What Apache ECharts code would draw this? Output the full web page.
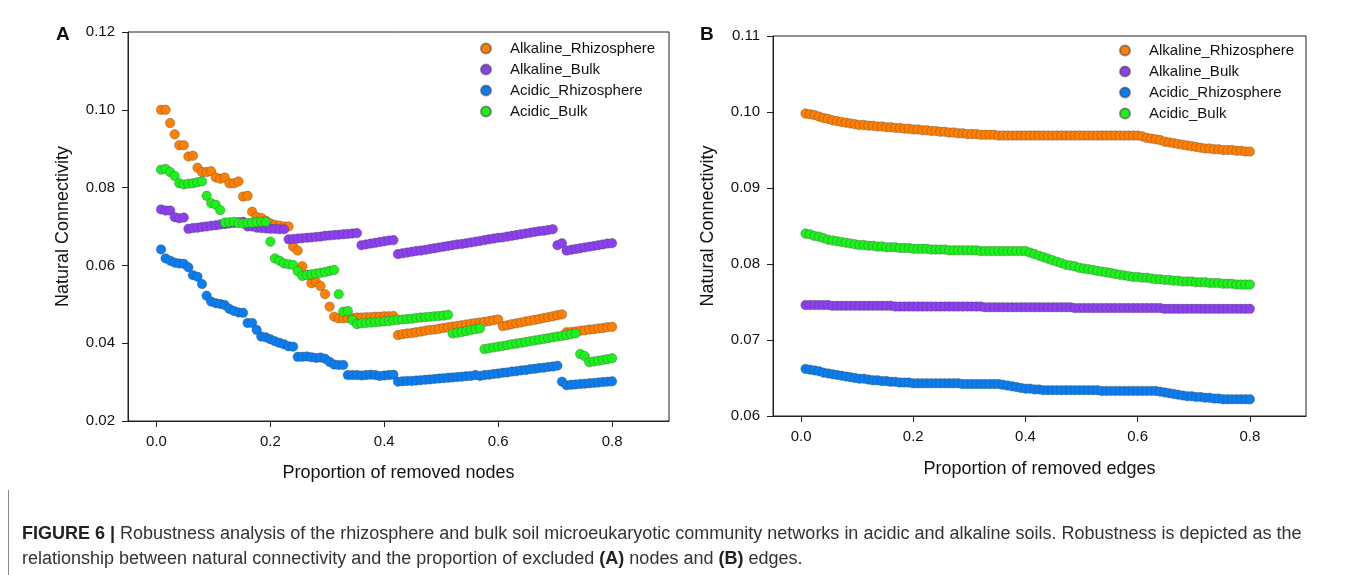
<!DOCTYPE html>
<html>
<head>
<meta charset="utf-8">
<title>Figure 6</title>
<script src="https://cdn.jsdelivr.net/npm/echarts@6.0.0/dist/echarts.min.js"></script>
<style>
	html, body { margin: 0; padding: 0; background: #fff; }
	#container { width: 1355px; height: 575px; }
</style>
</head>
<body>
<div id="container"></div>
<script>
// proportion removed (same steps for every network)
var xSteps = [0.008, 0.016, 0.024, 0.032, 0.040, 0.048, 0.056, 0.064, 0.072, 0.080,
	0.088, 0.096, 0.104, 0.112, 0.120, 0.128, 0.136, 0.144, 0.152, 0.160,
	0.168, 0.176, 0.184, 0.192, 0.200, 0.208, 0.216, 0.224, 0.232, 0.240,
	0.248, 0.256, 0.264, 0.272, 0.280, 0.288, 0.296, 0.304, 0.312, 0.320,
	0.328, 0.336, 0.344, 0.352, 0.360, 0.368, 0.376, 0.384, 0.392, 0.400,
	0.408, 0.416, 0.424, 0.432, 0.440, 0.448, 0.456, 0.464, 0.472, 0.480,
	0.488, 0.496, 0.504, 0.512, 0.520, 0.528, 0.536, 0.544, 0.552, 0.560,
	0.568, 0.576, 0.584, 0.592, 0.600, 0.608, 0.616, 0.624, 0.632, 0.640,
	0.648, 0.656, 0.664, 0.672, 0.680, 0.688, 0.696, 0.704, 0.712, 0.720,
	0.728, 0.736, 0.744, 0.752, 0.760, 0.768, 0.776, 0.784, 0.792, 0.800];

var seriesNames = ['Alkaline_Rhizosphere', 'Alkaline_Bulk', 'Acidic_Rhizosphere', 'Acidic_Bulk'];
var seriesColors = ['#ff7f00', '#8c40f0', '#0a7ef0', '#1ef01e'];

// A: removed nodes
var nodesAlkRhizo = [0.1000, 0.1000, 0.0966, 0.0937, 0.0909, 0.0909, 0.0880, 0.0882, 0.0851, 0.0840,
	0.0840, 0.0842, 0.0826, 0.0823, 0.0826, 0.0811, 0.0811, 0.0816, 0.0777, 0.0779,
	0.0738, 0.0724, 0.0722, 0.0715, 0.0708, 0.0704, 0.0702, 0.0700, 0.0700, 0.0648,
	0.0638, 0.0598, 0.0576, 0.0554, 0.0558, 0.0547, 0.0526, 0.0494, 0.0468, 0.0464,
	0.0464, 0.0465, 0.0465, 0.0466, 0.0466, 0.0467, 0.0467, 0.0468, 0.0468, 0.0469,
	0.0469, 0.0470, 0.0421, 0.0423, 0.0425, 0.0426, 0.0428, 0.0430, 0.0432, 0.0434,
	0.0435, 0.0437, 0.0439, 0.0441, 0.0443, 0.0444, 0.0446, 0.0448, 0.0450, 0.0452,
	0.0453, 0.0455, 0.0457, 0.0459, 0.0461, 0.0444, 0.0446, 0.0449, 0.0451, 0.0453,
	0.0456, 0.0458, 0.0460, 0.0462, 0.0465, 0.0467, 0.0469, 0.0472, 0.0474, 0.0428,
	0.0429, 0.0430, 0.0432, 0.0433, 0.0435, 0.0436, 0.0438, 0.0439, 0.0441, 0.0442];
var nodesAlkBulk = [0.0744, 0.0741, 0.0741, 0.0724, 0.0721, 0.0723, 0.0694, 0.0696, 0.0697, 0.0699,
	0.0700, 0.0702, 0.0703, 0.0705, 0.0706, 0.0708, 0.0709, 0.0711, 0.0712, 0.0700,
	0.0700, 0.0697, 0.0696, 0.0695, 0.0694, 0.0694, 0.0693, 0.0693, 0.0667, 0.0668,
	0.0669, 0.0670, 0.0671, 0.0672, 0.0673, 0.0674, 0.0676, 0.0677, 0.0678, 0.0679,
	0.0680, 0.0681, 0.0682, 0.0683, 0.0652, 0.0654, 0.0656, 0.0658, 0.0660, 0.0662,
	0.0664, 0.0665, 0.0629, 0.0631, 0.0633, 0.0635, 0.0637, 0.0638, 0.0640, 0.0642,
	0.0644, 0.0646, 0.0648, 0.0650, 0.0652, 0.0654, 0.0655, 0.0657, 0.0659, 0.0661,
	0.0663, 0.0665, 0.0667, 0.0669, 0.0671, 0.0672, 0.0674, 0.0676, 0.0678, 0.0680,
	0.0682, 0.0684, 0.0686, 0.0688, 0.0689, 0.0691, 0.0693, 0.0652, 0.0657, 0.0638,
	0.0640, 0.0642, 0.0644, 0.0646, 0.0648, 0.0650, 0.0652, 0.0654, 0.0656, 0.0657];
var nodesAcidRhizo = [0.0641, 0.0618, 0.0612, 0.0607, 0.0605, 0.0604, 0.0595, 0.0575, 0.0571, 0.0552,
	0.0522, 0.0507, 0.0503, 0.0501, 0.0498, 0.0488, 0.0483, 0.0479, 0.0478, 0.0452,
	0.0452, 0.0434, 0.0417, 0.0415, 0.0410, 0.0405, 0.0401, 0.0397, 0.0392, 0.0391,
	0.0365, 0.0365, 0.0366, 0.0364, 0.0362, 0.0363, 0.0360, 0.0352, 0.0345, 0.0344,
	0.0344, 0.0318, 0.0318, 0.0318, 0.0317, 0.0318, 0.0319, 0.0318, 0.0316, 0.0317,
	0.0318, 0.0319, 0.0301, 0.0302, 0.0303, 0.0303, 0.0304, 0.0305, 0.0306, 0.0307,
	0.0308, 0.0309, 0.0310, 0.0311, 0.0312, 0.0313, 0.0314, 0.0315, 0.0316, 0.0318,
	0.0316, 0.0318, 0.0319, 0.0321, 0.0322, 0.0324, 0.0325, 0.0327, 0.0328, 0.0330,
	0.0331, 0.0333, 0.0334, 0.0336, 0.0337, 0.0339, 0.0340, 0.0342, 0.0301, 0.0292,
	0.0293, 0.0294, 0.0295, 0.0296, 0.0297, 0.0298, 0.0299, 0.0300, 0.0301, 0.0302];
var nodesAcidBulk = [0.0846, 0.0848, 0.0840, 0.0830, 0.0811, 0.0808, 0.0810, 0.0811, 0.0814, 0.0816,
	0.0779, 0.0760, 0.0756, 0.0742, 0.0710, 0.0711, 0.0712, 0.0709, 0.0708, 0.0709,
	0.0710, 0.0711, 0.0712, 0.0712, 0.0661, 0.0618, 0.0612, 0.0605, 0.0603, 0.0601,
	0.0585, 0.0573, 0.0575, 0.0577, 0.0579, 0.0581, 0.0583, 0.0586, 0.0588, 0.0526,
	0.0481, 0.0483, 0.0459, 0.0449, 0.0451, 0.0452, 0.0453, 0.0454, 0.0455, 0.0456,
	0.0457, 0.0459, 0.0460, 0.0461, 0.0462, 0.0463, 0.0465, 0.0466, 0.0467, 0.0468,
	0.0469, 0.0470, 0.0471, 0.0473, 0.0425, 0.0427, 0.0429, 0.0431, 0.0434, 0.0436,
	0.0438, 0.0385, 0.0387, 0.0389, 0.0391, 0.0393, 0.0395, 0.0397, 0.0399, 0.0401,
	0.0403, 0.0405, 0.0407, 0.0409, 0.0411, 0.0413, 0.0415, 0.0417, 0.0419, 0.0421,
	0.0423, 0.0425, 0.0372, 0.0367, 0.0351, 0.0353, 0.0355, 0.0357, 0.0359, 0.0361];

// B: removed edges
var edgesAlkRhizo = [0.0998, 0.0997, 0.0996, 0.0994, 0.0992, 0.0991, 0.0989, 0.0988, 0.0987, 0.0986,
	0.0985, 0.0984, 0.0983, 0.0983, 0.0982, 0.0982, 0.0981, 0.0981, 0.0980, 0.0980,
	0.0979, 0.0979, 0.0978, 0.0978, 0.0977, 0.0977, 0.0976, 0.0976, 0.0975, 0.0975,
	0.0974, 0.0974, 0.0973, 0.0973, 0.0972, 0.0972, 0.0971, 0.0971, 0.0971, 0.0970,
	0.0970, 0.0970, 0.0970, 0.0969, 0.0969, 0.0969, 0.0969, 0.0969, 0.0969, 0.0969,
	0.0969, 0.0969, 0.0969, 0.0969, 0.0969, 0.0969, 0.0969, 0.0969, 0.0969, 0.0969,
	0.0969, 0.0969, 0.0969, 0.0969, 0.0969, 0.0969, 0.0969, 0.0969, 0.0969, 0.0969,
	0.0969, 0.0969, 0.0969, 0.0969, 0.0969, 0.0968, 0.0966, 0.0965, 0.0964, 0.0963,
	0.0961, 0.0960, 0.0959, 0.0958, 0.0957, 0.0956, 0.0955, 0.0954, 0.0953, 0.0952,
	0.0952, 0.0951, 0.0951, 0.0950, 0.0950, 0.0950, 0.0949, 0.0949, 0.0948, 0.0948];
var edgesAlkBulk = [0.0746, 0.0746, 0.0746, 0.0746, 0.0746, 0.0746, 0.0745, 0.0745, 0.0745, 0.0745,
	0.0745, 0.0745, 0.0745, 0.0745, 0.0745, 0.0745, 0.0745, 0.0745, 0.0745, 0.0745,
	0.0744, 0.0744, 0.0744, 0.0744, 0.0744, 0.0744, 0.0744, 0.0744, 0.0744, 0.0744,
	0.0744, 0.0744, 0.0744, 0.0744, 0.0744, 0.0744, 0.0744, 0.0744, 0.0744, 0.0744,
	0.0743, 0.0743, 0.0743, 0.0743, 0.0743, 0.0743, 0.0743, 0.0743, 0.0743, 0.0743,
	0.0743, 0.0743, 0.0743, 0.0743, 0.0743, 0.0743, 0.0743, 0.0743, 0.0743, 0.0743,
	0.0742, 0.0742, 0.0742, 0.0742, 0.0742, 0.0742, 0.0742, 0.0742, 0.0742, 0.0742,
	0.0742, 0.0742, 0.0742, 0.0742, 0.0742, 0.0742, 0.0742, 0.0742, 0.0742, 0.0742,
	0.0741, 0.0741, 0.0741, 0.0741, 0.0741, 0.0741, 0.0741, 0.0741, 0.0741, 0.0741,
	0.0741, 0.0741, 0.0741, 0.0741, 0.0741, 0.0741, 0.0741, 0.0741, 0.0741, 0.0741];
var edgesAcidRhizo = [0.0662, 0.0661, 0.0660, 0.0659, 0.0657, 0.0656, 0.0655, 0.0654, 0.0653, 0.0652,
	0.0651, 0.0650, 0.0649, 0.0649, 0.0648, 0.0647, 0.0647, 0.0646, 0.0646, 0.0645,
	0.0645, 0.0644, 0.0644, 0.0644, 0.0643, 0.0643, 0.0643, 0.0643, 0.0643, 0.0643,
	0.0643, 0.0643, 0.0643, 0.0643, 0.0643, 0.0642, 0.0642, 0.0642, 0.0642, 0.0642,
	0.0642, 0.0642, 0.0642, 0.0642, 0.0641, 0.0640, 0.0639, 0.0638, 0.0637, 0.0636,
	0.0636, 0.0635, 0.0635, 0.0634, 0.0634, 0.0634, 0.0634, 0.0634, 0.0634, 0.0634,
	0.0634, 0.0634, 0.0634, 0.0634, 0.0634, 0.0634, 0.0633, 0.0633, 0.0633, 0.0633,
	0.0633, 0.0633, 0.0633, 0.0633, 0.0633, 0.0633, 0.0633, 0.0633, 0.0633, 0.0632,
	0.0631, 0.0630, 0.0629, 0.0628, 0.0627, 0.0626, 0.0626, 0.0625, 0.0625, 0.0624,
	0.0624, 0.0623, 0.0623, 0.0622, 0.0622, 0.0622, 0.0622, 0.0622, 0.0622, 0.0622];
var edgesAcidBulk = [0.0840, 0.0839, 0.0837, 0.0836, 0.0834, 0.0832, 0.0831, 0.0830, 0.0829, 0.0828,
	0.0827, 0.0826, 0.0825, 0.0825, 0.0824, 0.0824, 0.0823, 0.0823, 0.0822, 0.0822,
	0.0822, 0.0821, 0.0821, 0.0821, 0.0820, 0.0820, 0.0820, 0.0820, 0.0819, 0.0819,
	0.0819, 0.0819, 0.0818, 0.0818, 0.0818, 0.0818, 0.0818, 0.0818, 0.0818, 0.0817,
	0.0817, 0.0817, 0.0817, 0.0817, 0.0817, 0.0817, 0.0817, 0.0817, 0.0817, 0.0817,
	0.0815, 0.0813, 0.0811, 0.0809, 0.0807, 0.0805, 0.0803, 0.0801, 0.0799, 0.0798,
	0.0797, 0.0795, 0.0794, 0.0793, 0.0792, 0.0791, 0.0790, 0.0789, 0.0788, 0.0787,
	0.0786, 0.0785, 0.0784, 0.0783, 0.0783, 0.0782, 0.0782, 0.0781, 0.0780, 0.0780,
	0.0779, 0.0779, 0.0778, 0.0778, 0.0777, 0.0777, 0.0777, 0.0776, 0.0776, 0.0776,
	0.0775, 0.0775, 0.0775, 0.0774, 0.0774, 0.0774, 0.0773, 0.0773, 0.0773, 0.0773];

var xTicks = [0, 0.2, 0.4, 0.6, 0.8];

var FONT = "'Liberation Sans', Arial, sans-serif";

function pairs(ys) {
	return xSteps.map(function (x, i) { return [x, ys[i]]; });
}

function xAxisFor(idx, name, gap) {
	return {
		gridIndex : idx,
		type : 'value',
		min : -0.05,
		max : 0.9,
		name : name,
		nameLocation : 'middle',
		nameGap : gap,
		nameTextStyle : { fontFamily : FONT, fontSize : 18, color : '#111' },
		splitLine : { show : false },
		axisLine : { onZero : false, lineStyle : { color : '#222', width : 1 } },
		axisTick : { show : true, length : 6, customValues : xTicks, lineStyle : { color : '#222' } },
		axisLabel : {
			customValues : xTicks,
			margin : 13,
			fontFamily : FONT, fontSize : 15, color : '#111',
			formatter : function (v) { return v.toFixed(1); }
		}
	};
}

function yAxisFor(idx, min, max, step, gap) {
	return {
		gridIndex : idx,
		type : 'value',
		min : min,
		max : max,
		interval : step,
		name : 'Natural Connectivity',
		nameLocation : 'middle',
		nameGap : gap,
		nameRotate : 90,
		nameTextStyle : { fontFamily : FONT, fontSize : 18, color : '#111' },
		splitLine : { show : false },
		axisLine : { onZero : false, lineStyle : { color : '#222', width : 1 } },
		axisTick : { show : true, length : 6, lineStyle : { color : '#222' } },
		axisLabel : {
			margin : 13,
			fontFamily : FONT, fontSize : 15, color : '#111',
			formatter : function (v) { return v.toFixed(2); }
		}
	};
}

function scatter(idx, k, ys) {
	return {
		name : seriesNames[k],
		type : 'scatter',
		xAxisIndex : idx,
		yAxisIndex : idx,
		symbol : 'circle',
		symbolSize : 9.5,
		itemStyle : { color : seriesColors[k], opacity : 1, borderColor : 'rgba(60,60,60,0.55)', borderWidth : 0.6 },
		emphasis : { disabled : true },
		data : pairs(ys)
	};
}

function draw() {
	var dom = document.getElementById("container");
	var myChart = echarts.init(dom, null, { renderer : 'canvas' });

	var legendStyle = {
		orient : 'vertical',
		icon : 'circle',
		itemWidth : 38,
		itemHeight : 10,
		itemGap : 6,
		padding : 0,
		textStyle : { fontFamily : FONT, fontSize : 15, color : '#111' },
		data : seriesNames
	};
	var captionStyle = {
		fontFamily : FONT, fontSize : 18, fontWeight : 'normal', color : '#333',
		rich : { b : { fontFamily : FONT, fontSize : 18, fontWeight : 'bold', color : '#222' } }
	};

	var option = {
		animation : false,
		backgroundColor : '#fff',
		color : seriesColors,
		title : [ {
			text : 'A', left : 51, top : 20,
			textStyle : { fontFamily : FONT, fontSize : 19, fontWeight : 'bold', color : '#111' }
		}, {
			text : 'B', left : 695, top : 20,
			textStyle : { fontFamily : FONT, fontSize : 19, fontWeight : 'bold', color : '#111' }
		}, {
			text : '{b|FIGURE 6 |} Robustness analysis of the rhizosphere and bulk soil microeukaryotic community networks in acidic and alkaline soils. Robustness is depicted as the',
			left : 17, top : 520,
			textStyle : captionStyle
		}, {
			text : 'relationship between natural connectivity and the proportion of excluded {b|(A)} nodes and {b|(B)} edges.',
			left : 17, top : 545,
			textStyle : captionStyle
		} ],
		legend : [
			Object.assign({ left : 480, top : 41 }, legendStyle),
			Object.assign({ left : 1119, top : 43 }, legendStyle)
		],
		grid : [ {
			left : 128, top : 32, width : 541, height : 389,
			show : true, borderColor : '#222', borderWidth : 1, backgroundColor : 'transparent',
			containLabel : false, outerBoundsMode : 'none'
		}, {
			left : 773, top : 36, width : 533, height : 380,
			show : true, borderColor : '#222', borderWidth : 1, backgroundColor : 'transparent',
			containLabel : false, outerBoundsMode : 'none'
		} ],
		xAxis : [ xAxisFor(0, 'Proportion of removed nodes', 43), xAxisFor(1, 'Proportion of removed edges', 44) ],
		yAxis : [ yAxisFor(0, 0.02, 0.12, 0.02, 56), yAxisFor(1, 0.06, 0.11, 0.01, 56) ],
		graphic : [ {
			type : 'polyline',
			silent : true,
			shape : { points : [ [8.5, 490], [8.5, 580] ] },
			style : { stroke : '#888', lineWidth : 1, fill : null }
		} ],
		series : [
			scatter(0, 0, nodesAlkRhizo), scatter(0, 1, nodesAlkBulk),
			scatter(0, 2, nodesAcidRhizo), scatter(0, 3, nodesAcidBulk),
			scatter(1, 0, edgesAlkRhizo), scatter(1, 1, edgesAlkBulk),
			scatter(1, 2, edgesAcidRhizo), scatter(1, 3, edgesAcidBulk)
		]
	};

	if (option && typeof option === "object") {
		myChart.setOption(option, true);
	}
}

draw();
</script>
</body>
</html>
